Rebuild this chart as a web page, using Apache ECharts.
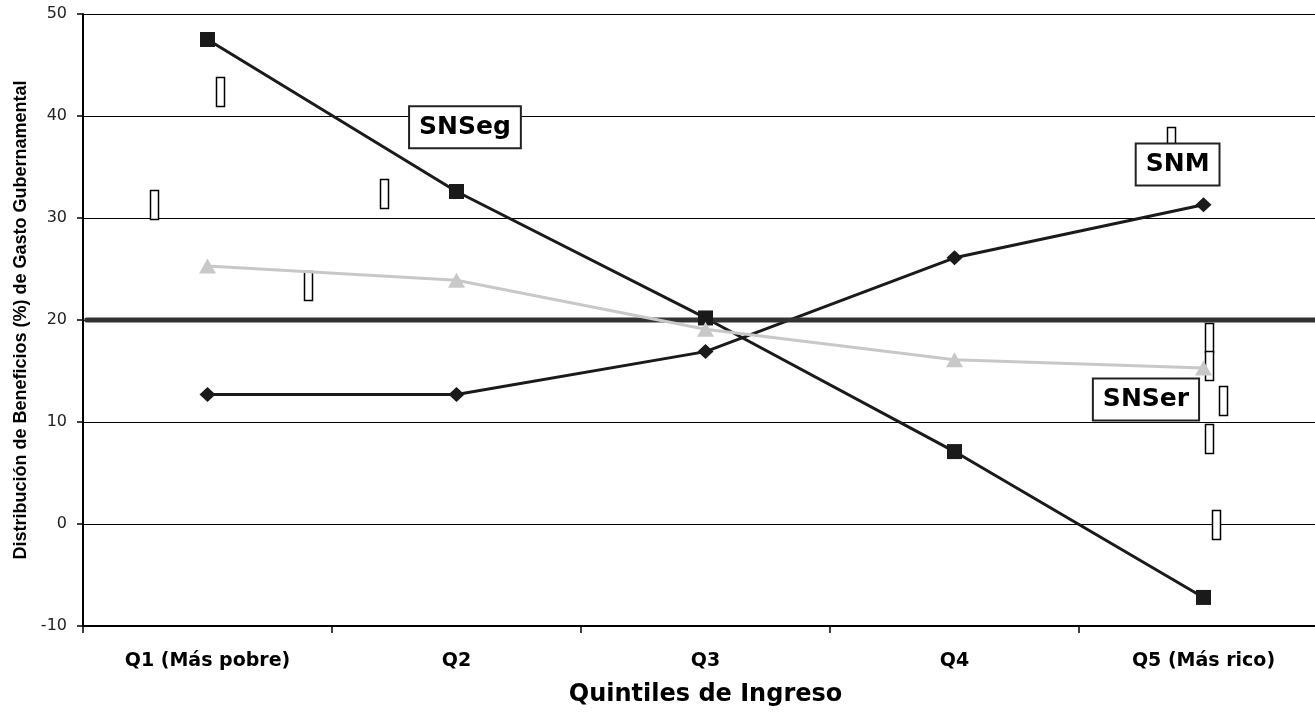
<!DOCTYPE html>
<html>
<head>
<meta charset="utf-8">
<script src="https://cdn.jsdelivr.net/npm/echarts@6/dist/echarts.min.js"></script>
<style>
html,body{margin:0;padding:0;background:#fff;overflow:hidden;width:1315px;height:718px;}
#chart{width:1330px;height:718px;}
</style>
</head>
<body>
<div id="chart"></div>
<script>
// ---- data ----
const categories = ['Q1 (Más pobre)', 'Q2', 'Q3', 'Q4', 'Q5 (Más rico)'];
const snsegValues = [47.5, 32.6, 20.2, 7.1, -7.2];
const snmValues = [12.7, 12.7, 16.9, 26.1, 31.3];
const snserValues = [25.3, 23.9, 19.1, 16.1, 15.3];
const referenceLevel = 20;
const referenceSpan = [-0.485, 4.5];
const yMin = -10, yMax = 50, yStep = 10;
const xAxisTitle = 'Quintiles de Ingreso';
const yAxisTitle = 'Distribución de Beneficios (%) de Gasto Gubernamental';
// boxed labels (x in quintile index units, y in %)
const labelNames = ['SNSeg', 'SNM', 'SNSer'];
const labelX = [1.034, 3.896, 3.769];
const labelY = [38.9, 35.25, 12.2];
// small empty boxes (centre x in quintile index units, y in %)
const boxX = [0.050, -0.215, 0.404, 0.707, 3.871, 4.022, 4.022, 4.078, 4.022, 4.050];
const boxY = [42.45, 31.37, 23.43, 32.4, 37.5, 18.28, 15.5, 12.06, 8.38, -0.05];

const dark = '#1a1a1a';
const grey = '#c8c8c8';

const chart = echarts.init(document.getElementById('chart'), null, {renderer: 'canvas'});
chart.setOption({
  animation: false,
  backgroundColor: '#fff',
  grid: {left: 83, top: 14, width: 1245, height: 612, containLabel: false},
  xAxis: [{
    type: 'category',
    data: categories,
    boundaryGap: true,
    axisLine: {onZero: false, lineStyle: {color: '#000', width: 2}},
    axisTick: {show: true, length: 7, lineStyle: {color: '#000', width: 1.5}},
    axisLabel: {margin: 26, fontFamily: 'DejaVu Sans', fontWeight: 'bold', fontSize: 19, color: '#000'},
    name: xAxisTitle,
    nameLocation: 'middle',
    nameGap: 57,
    nameTextStyle: {fontFamily: 'DejaVu Sans', fontWeight: 'bold', fontSize: 24, color: '#000', verticalAlign: 'top'}
  }, {
    type: 'value', min: -0.5, max: 4.5, show: false
  }],
  yAxis: {
    type: 'value',
    min: yMin, max: yMax, interval: yStep,
    axisLine: {show: true, onZero: false, lineStyle: {color: '#000', width: 2}},
    axisTick: {show: true, length: 6, lineStyle: {color: '#000', width: 1.5}},
    splitLine: {show: true, lineStyle: {color: '#000', width: 1.2}},
    axisLabel: {margin: 16, fontFamily: 'DejaVu Sans', fontSize: 16, color: '#222'},
    name: yAxisTitle,
    nameLocation: 'middle',
    nameGap: 48,
    nameTextStyle: {fontFamily: 'Liberation Sans', fontWeight: 'bold', fontSize: 18, color: '#000'}
  },
  series: [
    {
      name: 'SNM', type: 'line', data: snmValues,
      symbol: 'diamond', symbolSize: [16, 15],
      lineStyle: {color: dark, width: 3},
      itemStyle: {color: dark}
    },
    {
      name: 'SNSeg', type: 'line', data: snsegValues,
      symbol: 'rect', symbolSize: 15,
      lineStyle: {color: dark, width: 3},
      itemStyle: {color: dark}
    },
    {
      name: 'ref', type: 'line', xAxisIndex: 1,
      data: referenceSpan.map(x => [x, referenceLevel]),
      symbol: 'none', clip: false,
      lineStyle: {color: '#333', width: 5, cap: 'round'}
    },
    {
      name: 'SNSer', type: 'line', data: snserValues,
      symbol: 'triangle', symbolSize: [17, 15],
      lineStyle: {color: grey, width: 3},
      itemStyle: {color: grey}
    },
    {
      name: 'labels', type: 'scatter', xAxisIndex: 1,
      data: labelNames.map((n, i) => ({name: n, value: [labelX[i], labelY[i]]})),
      symbolSize: 1,
      itemStyle: {color: 'transparent', opacity: 1},
      label: {
        show: true, position: 'inside', formatter: p => p.name,
        fontFamily: 'DejaVu Sans', fontWeight: 'bold', fontSize: 25, color: '#000',
        backgroundColor: '#fff', borderColor: '#222', borderWidth: 2,
        padding: [8, 9, 7, 9], lineHeight: 25
      },
      silent: true
    },
    {
      name: 'boxes', type: 'custom', xAxisIndex: 1,
      data: boxX.map((x, i) => [x, boxY[i]]),
      renderItem: function (params, api) {
        const c = api.coord([api.value(0), api.value(1)]);
        const w = 8, h = 29;
        return {
          type: 'rect',
          shape: {x: Math.round(c[0] - w / 2) + 0.5, y: Math.round(c[1] - h / 2) + 0.5, width: w, height: h},
          style: {fill: '#fff', stroke: '#000', lineWidth: 1.5}
        };
      },
      silent: true
    }
  ]
});
</script>
</body>
</html>
